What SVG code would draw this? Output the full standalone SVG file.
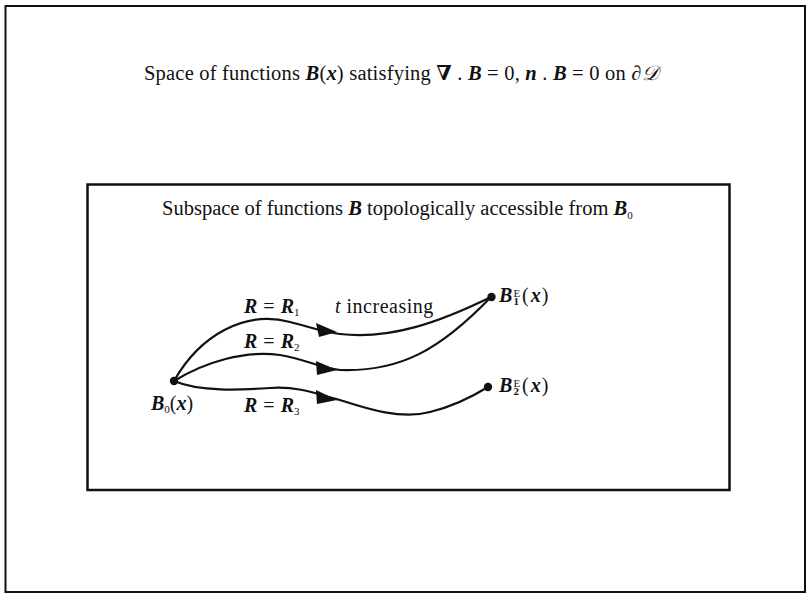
<svg xmlns="http://www.w3.org/2000/svg" width="807" height="595" viewBox="0 0 807 595">
<style>
text{font-family:"Liberation Serif","DejaVu Serif",serif;fill:#111}
.t{font-size:20.5px}
.l{font-size:20px}
.bi{font-weight:bold;font-style:italic}
.it{font-style:italic}
.b{font-weight:bold}
.sub{font-size:11px}
.box{fill:none;stroke:#111}
.c{fill:none;stroke:#111;stroke-width:2.2;stroke-linecap:round}
.dot{fill:#111}
.ah{fill:#111}
</style>
<rect width="807" height="595" fill="#fff"/>
<g id="outer-space">
<rect class="box" x="5.5" y="6" width="799.5" height="586" stroke-width="2"/>
<text class="t" x="144" y="80" letter-spacing="0.2">Space of functions <tspan class="bi">B</tspan>(<tspan class="bi">x</tspan>) satisfying <tspan class="b">∇</tspan> . <tspan class="bi">B</tspan> = 0, <tspan class="bi">n</tspan> . <tspan class="bi">B</tspan> = 0 on ∂<tspan class="it">𝒟</tspan></text>
</g>
<g id="subspace">
<rect class="box" x="87.5" y="184.5" width="642" height="305.5" stroke-width="2.5"/>
<text class="t" x="162" y="215">Subspace of functions <tspan class="bi">B</tspan> topologically accessible from <tspan class="bi">B</tspan><tspan class="sub" dy="4">0</tspan></text>
</g>
<g id="connectors">
<path class="c" d="M174,381 C200,335 245,310 290,322 C310,327 322,332 340,334 C390,340 440,322 491,297"/>
<path class="c" d="M174,381 C205,362 245,350 280,355 C305,359 320,368 340,370 C400,372 440,350 491,297"/>
<path class="c" d="M174,381 C200,392 240,390 270,388 C300,386 320,395 340,400 C365,408 400,420 430,412 C455,406 475,395 488,387"/>
<polygon class="ah" points="337,332 316,323 319,337"/>
<polygon class="ah" points="337,370 316,361 317,375"/>
<polygon class="ah" points="337,400 316,390 317,404"/>
</g>
<g id="node-B0">
<circle class="dot" cx="174" cy="381" r="4.2"/>
<text class="l" x="151" y="410"><tspan class="bi">B</tspan><tspan class="sub" dy="3">0</tspan><tspan dy="-3">(</tspan><tspan class="bi">x</tspan>)</text>
</g>
<g id="node-B1E">
<circle class="dot" cx="491.5" cy="297" r="4.2"/>
<text class="l" x="499" y="302"><tspan class="bi">B</tspan><tspan class="sub" x="513.5" y="296.5">E</tspan><tspan class="sub b" x="513.5" y="305">1</tspan><tspan x="522" y="302">(</tspan><tspan class="bi" dx="2">x</tspan><tspan dx="1">)</tspan></text>
</g>
<g id="node-B2E">
<circle class="dot" cx="488" cy="387" r="4.2"/>
<text class="l" x="499" y="392"><tspan class="bi">B</tspan><tspan class="sub" x="513.5" y="386.5">E</tspan><tspan class="sub b" x="513.5" y="395">2</tspan><tspan x="522" y="392">(</tspan><tspan class="bi" dx="2">x</tspan><tspan dx="1">)</tspan></text>
</g>
<g id="labels">
<text class="l" x="244" y="313"><tspan class="bi">R</tspan><tspan dx="6">=</tspan><tspan class="bi" dx="6">R</tspan><tspan class="sub" dy="3">1</tspan></text>
<text class="l" x="335" y="313" letter-spacing="0.5"><tspan class="it">t</tspan> increasing</text>
<text class="l" x="244" y="348"><tspan class="bi">R</tspan><tspan dx="6">=</tspan><tspan class="bi" dx="6">R</tspan><tspan class="sub" dy="3">2</tspan></text>
<text class="l" x="244" y="412"><tspan class="bi">R</tspan><tspan dx="6">=</tspan><tspan class="bi" dx="6">R</tspan><tspan class="sub" dy="3">3</tspan></text>
</g>
</svg>
